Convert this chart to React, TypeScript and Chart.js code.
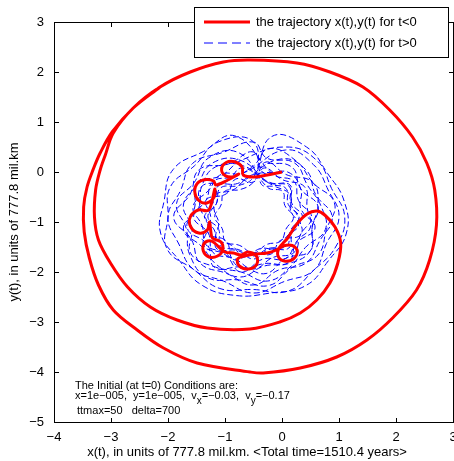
import React, { useEffect, useRef } from "react";
import { Chart, registerables } from "chart.js";
Chart.register(...registerables);

const FONT = "'Liberation Sans', Arial, Helvetica, sans-serif";

const xTicks = [-4, -3, -2, -1, 0, 1, 2, 3];
const yTicks = [-5, -4, -3, -2, -1, 0, 1, 2, 3];

const legendLabels = [
  "the trajectory x(t),y(t) for t<0",
  "the trajectory x(t),y(t) for t>0",
];
const xTitle = "x(t), in units of 777.8 mil.km. <Total time=1510.4 years>";
const yTitle = "y(t), in units of 777.8 mil.km";
const infoLine1 = "The Initial (at t=0) Conditions are:";
const infoLine3 = "ttmax=50   delta=700";

// red trajectory (t<0)
const redX = [
  0, -0.26, -0.5, -0.68, -0.7, -0.82, -0.98, -1.06, -1.0, -0.86, -0.76, -0.95, -1.16,
  -1.2, -1.33, -1.48, -1.53, -1.46, -1.32, -1.19, -1.18, -1.24,
  -1.3, -1.47, -1.61, -1.6, -1.46, -1.31, -1.27, -1.25, -1.22,
  -1.07, -1.04, -1.13, -1.28, -1.38, -1.36, -1.24, -1.0, -0.85, -0.72,
  -0.6, -0.45, -0.44, -0.58, -0.75, -0.78, -0.66, -0.46, -0.26, -0.1,
  0.02, 0.18, 0.27, 0.2, 0.04, -0.07, -0.05,
  0.1, 0.26, 0.44, 0.61, 0.75, 0.93, 1.03, 0.98, 0.84, 0.61, 0.32, -0.04, -0.56, -1.31,
  -1.84, -2.31, -2.71, -3.01, -3.22, -3.29, -3.27, -3.19, -3.1, -2.96, -2.61, -2.14,
  -1.61, -1.03, -0.56, 0.26, 0.84, 1.42, 1.89, 2.29, 2.54, 2.68, 2.71, 2.59,
  2.36, 1.94, 1.49, 0.96, 0.32, -0.33, -0.56, -1.49, -2.08, -2.54, -2.96, -3.22,
  -3.38, -3.47, -3.48, -3.42, -3.31, -3.19, -2.98, -2.61, -2.14,
];
const redY = [
  0, -0.06, -0.1, -0.06, 0.1, 0.2, 0.19, 0.06, -0.07, -0.1, -0.04, -0.16, -0.26,
  -0.18, -0.15, -0.22, -0.4, -0.57, -0.62, -0.5, -0.34, -0.64,
  -0.77, -0.76, -0.9, -1.1, -1.22, -1.16, -1.0, -1.18, -1.32,
  -1.4, -1.56, -1.68, -1.7, -1.58, -1.42, -1.38, -1.6, -1.62, -1.66,
  -1.6, -1.68, -1.84, -1.94, -1.88, -1.74, -1.68, -1.64, -1.62, -1.56,
  -1.48, -1.47, -1.58, -1.74, -1.78, -1.68, -1.52,
  -1.32, -1.04, -0.84, -0.78, -0.86, -1.1, -1.42, -1.82, -2.22, -2.56, -2.82, -3.0, -3.14, -3.12,
  -2.96, -2.7, -2.3, -1.82, -1.36, -0.9, -0.36, 0.04, 0.34, 0.78, 1.28, 1.7,
  2.0, 2.2, 2.24, 2.18, 2.0, 1.7, 1.24, 0.7, 0.18, -0.36, -1.06, -1.76,
  -2.36, -2.92, -3.36, -3.7, -3.92, -4.02, -4.0, -3.82, -3.52, -3.16, -2.76, -2.26,
  -1.72, -1.2, -0.7, -0.3, 0.06, 0.38, 0.8, 1.28, 1.7,
];

// blue trajectory (t>0)
const blueX = [
  0,
  -0.5, -0.78, -1.12, -1.15, -1.36, -1.18, -1.14, -0.78, -0.5, -0.23, 0.12, 0.18, 0.36, 0.17, 0.14, -0.21,
  -0.7, -1.17, -1.41, -1.46, -1.73, -1.4, -1.14, -0.74, -0.31, 0.12, 0.5, 0.53, 0.63, 0.54, 0.07, -0.28,
  -0.5, -0.73, -1.01, -1.07, -1.18, -1.05, -0.99, -0.74, -0.5, -0.27, -0.02, 0.07, 0.2, 0.05, 0.01, -0.25,
  -0.75, -1.29, -1.54, -1.85, -1.68, -1.62, -1.31, -0.75, -0.23, 0.18, 0.63, 0.78, 0.92, 0.54, 0.25, -0.23,
  -0.5, -0.84, -1.21, -1.33, -1.55, -1.29, -1.21, -0.84, -0.5, -0.16, 0.21, 0.33, 0.52, 0.29, 0.21, -0.15,
  -0.82, -1.38, -1.91, -2.07, -2.13, -1.8, -1.41, -0.81, -0.2, 0.42, 0.81, 1.13, 1.09, 0.8, 0.43, -0.18,
  -0.5, -0.76, -1.08, -1.15, -1.3, -1.11, -1.08, -0.77, -0.5, -0.24, 0.08, 0.15, 0.3, 0.11, 0.07, -0.22,
  -0.72, -1.22, -1.48, -1.73, -1.58, -1.6, -1.17, -0.72, -0.25, 0.16, 0.41, 0.76, 0.68, 0.45, 0.22, -0.27,
  -0.5, -1.04, -1.57, -1.78, -2.0, -1.81, -1.55, -1.03, -0.5, 0.04, 0.56, 0.78, 1.0, 0.81, 0.55, 0.06,
  -0.68, -1.07, -1.29, -1.56, -1.4, -1.33, -0.99, -0.7, -0.31, 0.11, 0.25, 0.5, 0.44, 0.4, 0.0, -0.31,
  -0.5, -0.81, -0.97, -1.33, -1.25, -1.29, -0.98, -0.85, -0.5, -0.19, -0.03, 0.33, 0.28, 0.15, 0.12, -0.22,
  -0.7, -0.97, -1.41, -1.43, -1.3, -1.37, -1.0, -0.72, -0.33, 0.06, 0.26, 0.58, 0.33, 0.33, 0.1, -0.32,
  -0.5, -0.94, -1.45, -1.61, -1.9, -1.59, -1.43, -0.97, -0.5, -0.06, 0.42, 0.66, 0.88, 0.59, 0.43, -0.02,
  -0.65, -0.86, -1.17, -1.19, -1.11, -1.15, -0.88, -0.66, -0.38, -0.08, 0.08, 0.29, 0.15, 0.15, -0.1, -0.37,
  -0.5, -1.12, -1.53, -1.96, -2.0, -2.02, -1.55, -1.09, -0.5, 0.11, 0.56, 0.94, 1.1, 0.87, 0.62, 0.08,
  -0.72, -1.06, -1.5, -1.53, -1.66, -1.31, -1.18, -0.7, -0.28, 0.06, 0.5, 0.53, 0.63, 0.33, 0.17, -0.29,
];
const blueY = [
  0,
  -0.05, -0.23, -0.28, -0.63, -0.9, -1.18, -1.54, -1.57, -1.74, -1.55, -1.52, -1.18, -0.9, -0.62, -0.26, -0.21,
  0.13, 0.1, -0.29, -0.71, -1.14, -1.5, -1.86, -2.1, -1.88, -1.83, -1.57, -1.1, -0.68, -0.21, -0.05, 0.2,
  -0.2, -0.35, -0.39, -0.66, -0.9, -1.13, -1.39, -1.47, -1.62, -1.45, -1.38, -1.14, -0.9, -0.67, -0.39, -0.31,
  0.38, 0.28, -0.21, -0.63, -1.13, -1.65, -2.11, -2.16, -2.27, -1.91, -1.66, -1.15, -0.62, -0.21, 0.22, 0.47,
  0.12, -0.09, -0.19, -0.56, -0.9, -1.23, -1.61, -1.73, -1.94, -1.71, -1.61, -1.24, -0.9, -0.57, -0.19, -0.05,
  0.72, 0.41, 0.05, -0.59, -1.22, -1.77, -2.26, -2.47, -2.42, -2.27, -1.78, -1.22, -0.58, -0.03, 0.5, 0.71,
  -0.1, -0.27, -0.32, -0.63, -0.9, -1.15, -1.48, -1.55, -1.68, -1.53, -1.48, -1.17, -0.9, -0.65, -0.33, -0.23,
  0.23, 0.18, -0.24, -0.66, -1.12, -1.63, -1.9, -2.0, -2.18, -1.88, -1.51, -1.15, -0.67, -0.27, 0.18, 0.28,
  0.6, 0.39, 0.17, -0.37, -0.9, -1.44, -1.95, -2.18, -2.42, -2.19, -1.96, -1.43, -0.9, -0.36, 0.15, 0.44,
  -0.02, -0.05, -0.37, -0.69, -1.08, -1.46, -1.63, -1.93, -1.83, -1.81, -1.4, -1.1, -0.71, -0.3, -0.15, 0.08,
  -0.2, -0.14, -0.43, -0.56, -0.9, -1.23, -1.38, -1.75, -1.62, -1.64, -1.37, -1.25, -0.9, -0.63, -0.28, -0.22,
  0.08, -0.19, -0.29, -0.72, -1.06, -1.48, -1.65, -2.0, -1.74, -1.73, -1.41, -1.12, -0.73, -0.34, 0.0, -0.02,
  0.4, 0.16, 0.05, -0.44, -0.9, -1.35, -1.83, -2.03, -2.26, -1.96, -1.82, -1.38, -0.9, -0.45, 0.03, 0.26,
  -0.16, -0.36, -0.46, -0.76, -1.02, -1.33, -1.47, -1.7, -1.53, -1.53, -1.29, -1.06, -0.77, -0.47, -0.3, -0.23,
  0.6, 0.6, 0.13, -0.3, -0.9, -1.53, -1.95, -2.33, -2.35, -2.38, -1.96, -1.5, -0.9, -0.33, 0.22, 0.5,
  0.23, -0.07, -0.23, -0.7, -1.13, -1.45, -1.91, -1.9, -2.03, -1.73, -1.57, -1.1, -0.68, -0.34, 0.1, 0.18,
];

const minus = (v: number) => String(v).replace("-", "\u2212");

const decor = {
  id: "decor",
  afterDraw(chart: any) {
    const { ctx, chartArea, scales } = chart;
    const { left, right, top, bottom } = chartArea;
    const xs = scales.x;
    const ys = scales.y;
    ctx.save();
    // frame
    ctx.strokeStyle = "#000";
    ctx.lineWidth = 1;
    ctx.strokeRect(left + 0.5, top + 0.5, right - left, bottom - top);
    // inward ticks
    ctx.beginPath();
    xTicks.forEach((v) => {
      const px = Math.round(xs.getPixelForValue(v)) + 0.5;
      ctx.moveTo(px, bottom + 0.5);
      ctx.lineTo(px, bottom - 4);
      ctx.moveTo(px, top + 0.5);
      ctx.lineTo(px, top + 5);
    });
    yTicks.forEach((v) => {
      const py = Math.round(ys.getPixelForValue(v)) + 0.5;
      ctx.moveTo(left + 0.5, py);
      ctx.lineTo(left + 5, py);
      ctx.moveTo(right + 0.5, py);
      ctx.lineTo(right - 4, py);
    });
    ctx.stroke();

    ctx.fillStyle = "#000";
    ctx.font = `13px ${FONT}`;
    ctx.textAlign = "center";
    ctx.textBaseline = "middle";
    // x tick labels
    xTicks.forEach((v) => {
      ctx.fillText(minus(v), xs.getPixelForValue(v), 437);
    });
    // axis titles
    ctx.fillText(xTitle, 247, 452);
    ctx.save();
    ctx.translate(14, 222);
    ctx.rotate(-Math.PI / 2);
    ctx.fillText(yTitle, 0, 0);
    ctx.restore();

    // initial conditions text
    ctx.textAlign = "left";
    ctx.textBaseline = "alphabetic";
    ctx.font = `11px ${FONT}`;
    ctx.fillText(infoLine1, 75, 389);
    const parts: [string, boolean][] = [
      ["x=1e\u2212005,  y=1e\u2212005,  v", false],
      ["x", true],
      ["=\u22120.03,  v", false],
      ["y", true],
      ["=\u22120.17", false],
    ];
    let cx = 75;
    parts.forEach(([t, sub]) => {
      if (sub) {
        ctx.font = `10px ${FONT}`;
        ctx.fillText(t, cx, 404);
      } else {
        ctx.font = `11px ${FONT}`;
        ctx.fillText(t, cx, 399);
      }
      cx += ctx.measureText(t).width;
    });
    ctx.font = `11px ${FONT}`;
    ctx.fillText(infoLine3, 77, 414);

    // legend
    ctx.fillStyle = "#fff";
    ctx.fillRect(194.5, 7.5, 254, 50);
    ctx.strokeStyle = "#000";
    ctx.lineWidth = 1;
    ctx.strokeRect(194.5, 7.5, 254, 50);
    ctx.strokeStyle = "#ff0000";
    ctx.lineWidth = 3;
    ctx.beginPath();
    ctx.moveTo(204, 22);
    ctx.lineTo(250, 22);
    ctx.stroke();
    ctx.strokeStyle = "#0000ff";
    ctx.lineWidth = 1;
    ctx.setLineDash([9, 5]);
    ctx.beginPath();
    ctx.moveTo(204, 43);
    ctx.lineTo(250, 43);
    ctx.stroke();
    ctx.setLineDash([]);
    ctx.fillStyle = "#000";
    ctx.font = `13px ${FONT}`;
    ctx.textBaseline = "middle";
    ctx.fillText(legendLabels[0], 256, 22);
    ctx.fillText(legendLabels[1], 256, 43);
    ctx.restore();
  },
};

export default function App() {
  const ref = useRef<HTMLCanvasElement | null>(null);
  useEffect(() => {
    if (!ref.current) return;
    const red = redX.map((x, i) => ({ x, y: redY[i] }));
    const blue = blueX.map((x, i) => ({ x, y: blueY[i] }));
    const chart = new Chart(ref.current, {
      type: "scatter",
      data: {
        datasets: [
          {
            label: legendLabels[0],
            data: red,
            showLine: true,
            borderColor: "#ff0000",
            borderWidth: 3,
            pointRadius: 0,
            tension: 0.35,
          },
          {
            label: legendLabels[1],
            data: blue,
            showLine: true,
            borderColor: "#0000ff",
            borderWidth: 1,
            borderDash: [6, 3],
            pointRadius: 0,
            tension: 0.45,
          },
        ],
      },
      options: {
        responsive: false,
        animation: false,
        layout: { padding: { top: 22, right: 1, left: 0, bottom: 0 } },
        plugins: { legend: { display: false }, tooltip: { enabled: false } },
        scales: {
          x: {
            type: "linear",
            min: -4,
            max: 3,
            afterBuildTicks: (s: any) => {
              s.ticks = xTicks.map((v) => ({ value: v }));
            },
            afterFit: (s: any) => {
              s.height = 39;
            },
            ticks: { display: false },
            grid: { display: false, drawTicks: false },
            border: { display: false },
          },
          y: {
            type: "linear",
            min: -5,
            max: 3,
            afterBuildTicks: (s: any) => {
              s.ticks = yTicks.map((v) => ({ value: v }));
            },
            afterFit: (s: any) => {
              s.width = 54;
            },
            ticks: {
              color: "#000",
              font: { family: FONT, size: 13 },
              padding: 10,
              autoSkip: false,
              callback: (v: any) => minus(v),
            },
            grid: { display: false, drawTicks: false },
            border: { display: false },
          },
        },
      },
      plugins: [decor],
    });
    return () => chart.destroy();
  }, []);
  return (
    <div style={{ position: "absolute", left: 0, top: 0, width: 454, height: 461, background: "#fff" }}>
      <canvas ref={ref} width={454} height={461} />
    </div>
  );
}
